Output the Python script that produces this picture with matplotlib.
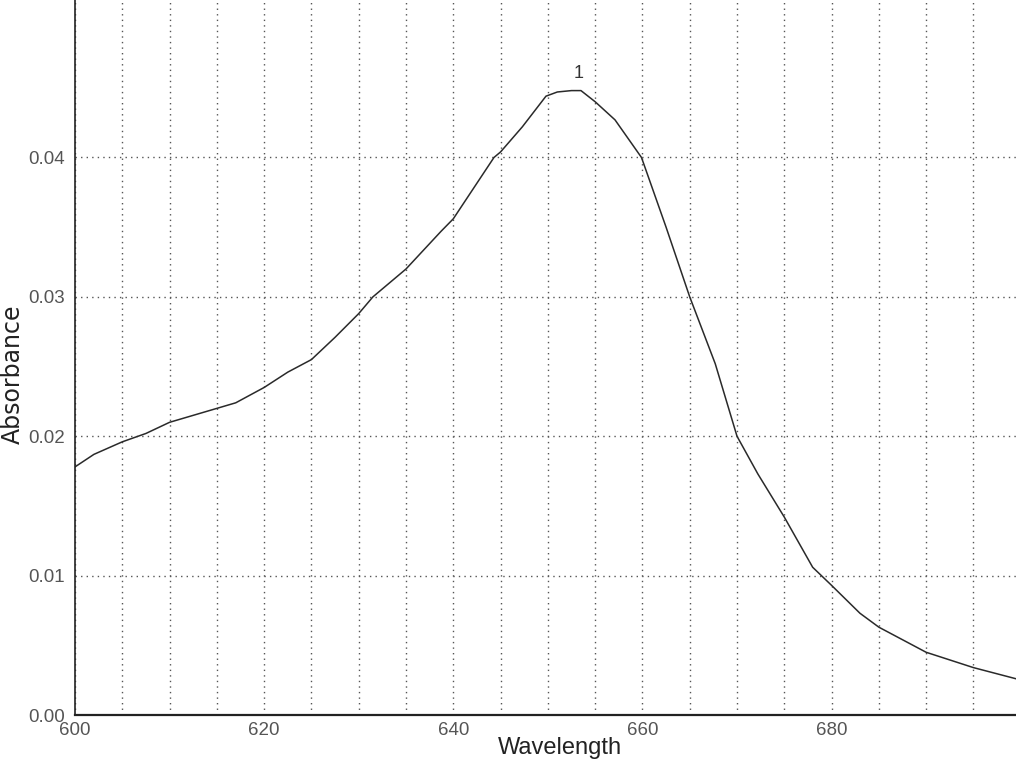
import matplotlib
matplotlib.use("Agg")
import matplotlib.pyplot as plt
import numpy as np

# spectrum
wavelength = [600, 602, 605, 607.5, 610, 612.5, 615, 617, 620, 622.5, 625, 627.5,
              630, 631.5, 635, 638.7, 640, 644.3, 645, 647.3, 649.8, 651, 652.5,
              653.5, 655, 657.1, 659.9, 662.5, 665, 667.7, 670, 672.2, 675, 678,
              680, 683, 685, 690, 695, 699.5]
absorbance = [0.0178, 0.0187, 0.0196, 0.0202, 0.0210, 0.0215, 0.0220, 0.0224, 0.0235,
              0.0246, 0.0255, 0.0271, 0.0288, 0.0300, 0.0320, 0.0347, 0.0356, 0.0400,
              0.0404, 0.0422, 0.0444, 0.0447, 0.0448, 0.0448, 0.0440, 0.0427, 0.0400,
              0.0350, 0.0300, 0.0252, 0.0200, 0.0173, 0.0142, 0.0106, 0.0093, 0.0073,
              0.0063, 0.0045, 0.0034, 0.0026]
peak_label = "1"
peak_wl = 653.2
peak_abs = 0.0448

xticks = [600, 620, 640, 660, 680]
yticks = [0.00, 0.01, 0.02, 0.03, 0.04]

fig = plt.figure(figsize=(10.16, 7.68), dpi=100)
ax = fig.add_axes([75 / 1016, 1 - 715 / 768, 1 - 75 / 1016, 715 / 768])

ax.plot(wavelength, absorbance, color="#2a2a2a", lw=1.1)
ax.annotate(peak_label, (peak_wl, peak_abs), xytext=(0, 6), textcoords="offset points",
            ha="center", va="bottom", fontsize=13, family="Liberation Sans", color="#333333")

ax.set_xlim(600, 699.5)
ax.set_ylim(0, 0.0513)
ax.set_xticks(xticks)
ax.set_xticks(np.arange(600, 700, 5), minor=True)
ax.set_yticks(yticks)
ax.set_xticklabels([str(t) for t in xticks])
ax.set_yticklabels(["%.2f" % t for t in yticks])

ax.grid(True, which="both", axis="x", ls=(0, (1, 3)), color="#555555", lw=1.0)
ax.grid(True, which="major", axis="y", ls=(0, (1, 3)), color="#555555", lw=1.0)

for lab in ax.get_xticklabels() + ax.get_yticklabels():
    lab.set_family("Liberation Sans")
    lab.set_fontsize(13.5)
    lab.set_color("#555555")
ax.tick_params(axis="both", which="both", length=0)
ax.tick_params(axis="x", pad=5)
ax.tick_params(axis="y", pad=7)

ax.spines["top"].set_visible(False)
ax.spines["right"].set_visible(False)
ax.spines["left"].set_color("#222222")
ax.spines["bottom"].set_color("#222222")
ax.spines["left"].set_linewidth(1.2)
ax.spines["bottom"].set_linewidth(1.6)

fig.text(560 / 1016, 1 - 748 / 768, "Wavelength", ha="center", va="center",
         fontsize=17, family="Liberation Sans", color="#222222")
fig.text(13 / 1016, 1 - 374 / 768, "Absorbance", ha="center", va="center",
         rotation=90, fontsize=17, family="DejaVu Sans", color="#222222")

fig.savefig("out.png", dpi=100)
